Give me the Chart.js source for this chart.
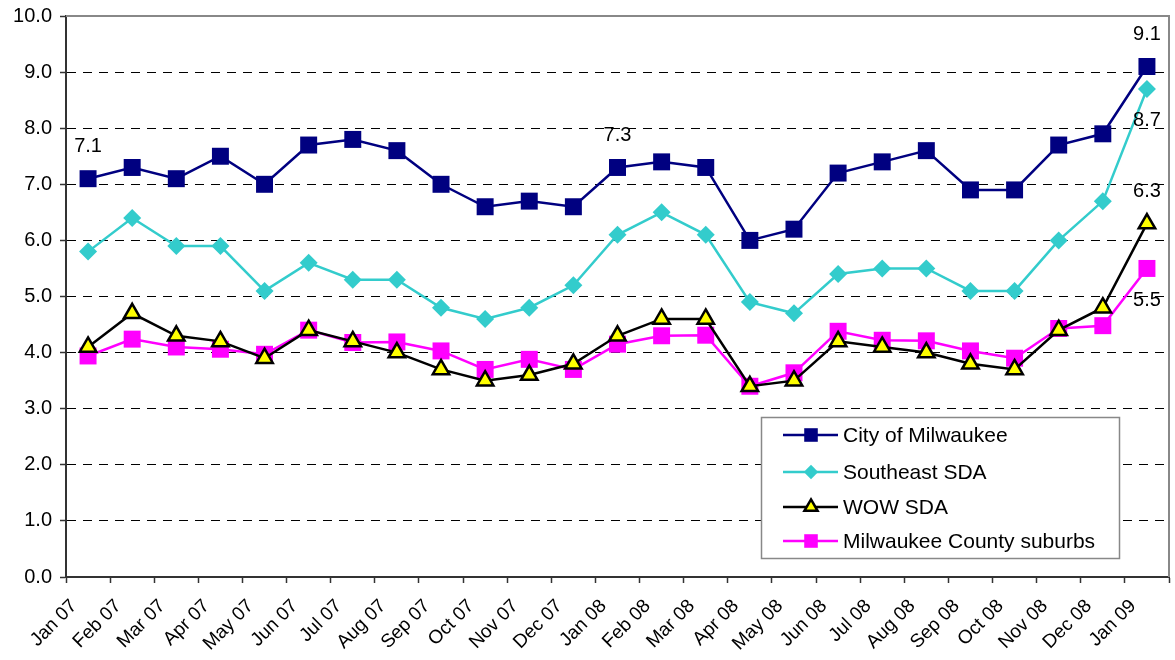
<!DOCTYPE html>
<html><head><meta charset="utf-8">
<script src="https://cdn.jsdelivr.net/npm/chart.js@4.4.0/dist/chart.umd.min.js"></script>
<style>html,body{margin:0;padding:0;background:#fff;overflow:hidden}#wrap{width:1175px;height:660px}</style>
</head><body><div id="wrap"><canvas id="c" width="1175" height="660"></canvas></div>
<script>
const months = ['Jan 07','Feb 07','Mar 07','Apr 07','May 07','Jun 07','Jul 07','Aug 07','Sep 07','Oct 07','Nov 07','Dec 07',
  'Jan 08','Feb 08','Mar 08','Apr 08','May 08','Jun 08','Jul 08','Aug 08','Sep 08','Oct 08','Nov 08','Dec 08','Jan 09'];
const seriesNames = ['City of Milwaukee','Southeast SDA','WOW SDA','Milwaukee County suburbs'];
const cityOfMilwaukee = [7.1,7.3,7.1,7.5,7.0,7.7,7.8,7.6,7.0,6.6,6.7,6.6,7.3,7.4,7.3,6.0,6.2,7.2,7.4,7.6,6.9,6.9,7.7,7.9,9.1];
const southeastSDA   = [5.8,6.4,5.9,5.9,5.1,5.6,5.3,5.3,4.8,4.6,4.8,5.2,6.1,6.5,6.1,4.9,4.7,5.4,5.5,5.5,5.1,5.1,6.0,6.7,8.7];
const wowSDA         = [4.1,4.7,4.3,4.2,3.9,4.4,4.2,4.0,3.7,3.5,3.6,3.8,4.3,4.6,4.6,3.4,3.5,4.2,4.1,4.0,3.8,3.7,4.4,4.8,6.3];
const countySuburbs  = [3.94,4.24,4.10,4.06,3.97,4.40,4.18,4.19,4.03,3.70,3.88,3.70,4.15,4.30,4.31,3.40,3.64,4.38,4.22,4.21,4.03,3.90,4.43,4.48,5.5];
const yMin = 0, yMax = 10, yStep = 1;
// which points carry a value label: [series index, point index, side]
const labelledPoints = [[0,0,'above'],[0,12,'above'],[0,24,'above'],[1,24,'below'],[2,24,'above'],[3,24,'below']];

const FONT = 'Liberation Sans, Arial, sans-serif';

const datasets = [
  {label: seriesNames[0], data: cityOfMilwaukee, borderColor:'#000080', backgroundColor:'#000080',
   pointStyle:'rect', pointRadius:12, pointBorderWidth:0, pointBackgroundColor:'#000080', borderWidth:2.5},
  {label: seriesNames[1], data: southeastSDA, borderColor:'#33CCCC', backgroundColor:'#33CCCC',
   pointStyle:'rectRot', pointRadius:9, pointBorderWidth:0, pointBackgroundColor:'#33CCCC', borderWidth:2.5},
  {label: seriesNames[2], data: wowSDA, borderColor:'#000000', backgroundColor:'#FFFF00',
   pointStyle:'triangle', pointRadius:9.5, pointBorderWidth:2.5, pointBorderColor:'#000000', pointBackgroundColor:'#FFFF00', borderWidth:2.5},
  {label: seriesNames[3], data: countySuburbs, borderColor:'#FF00FF', backgroundColor:'#FF00FF',
   pointStyle:'rect', pointRadius:12, pointBorderWidth:0, pointBackgroundColor:'#FF00FF', borderWidth:2.5}
];
datasets.forEach(d => { d.tension = 0; d.pointHoverRadius = d.pointRadius; d.clip = false; });

const framePlugin = {
  id:'frame',
  beforeDatasetsDraw(chart){
    const {ctx, chartArea:a} = chart;
    ctx.save();
    ctx.strokeStyle = '#888888'; ctx.lineWidth = 2;
    ctx.beginPath();
    ctx.moveTo(a.left, a.top); ctx.lineTo(a.right, a.top); ctx.lineTo(a.right, a.bottom);
    ctx.stroke();
    ctx.restore();
  },
  afterDraw(chart){
    const {ctx} = chart;
    // value labels
    ctx.save();
    ctx.font = '20px ' + FONT; ctx.fillStyle = '#000'; ctx.textAlign = 'center'; ctx.textBaseline = 'middle';
    labelledPoints.forEach(([s,i,side]) => {
      const el = chart.getDatasetMeta(s).data[i];
      const v = chart.data.datasets[s].data[i];
      ctx.fillText(v.toFixed(1), el.x, el.y + (side === 'above' ? -32 : 32));
    });
    ctx.restore();
    // legend
    const bx = 761, by = 417, bw = 358, bh = 141;
    ctx.save();
    ctx.fillStyle = '#fff'; ctx.fillRect(bx, by, bw, bh);
    ctx.strokeStyle = '#888'; ctx.lineWidth = 1.5; ctx.strokeRect(bx+0.5, by+0.5, bw, bh);
    const rows = [435, 472, 507, 541];
    chart.data.datasets.forEach((d, k) => {
      const y = rows[k];
      ctx.strokeStyle = d.borderColor; ctx.lineWidth = 2.5;
      ctx.beginPath(); ctx.moveTo(783, y); ctx.lineTo(838, y); ctx.stroke();
      ctx.fillStyle = d.pointBackgroundColor; ctx.strokeStyle = d.pointBorderColor || d.pointBackgroundColor;
      ctx.lineWidth = d.pointBorderWidth;
      Chart.helpers.drawPoint(ctx, {pointStyle: d.pointStyle, radius: d.pointRadius*0.8, rotation:0,
        borderWidth: d.pointBorderWidth}, 811, y);
      ctx.fillStyle = '#000'; ctx.font = '21px ' + FONT; ctx.textAlign = 'left'; ctx.textBaseline = 'middle';
      ctx.fillText(d.label, 843, y + 1);
    });
    ctx.restore();
  }
};

new Chart(document.getElementById('c'), {
  type:'line',
  data:{labels: months, datasets},
  options:{
    responsive:false, animation:false, devicePixelRatio:1,
    layout:{autoPadding:false, padding:{top:16, right:6, left:0, bottom:0}},
    plugins:{legend:{display:false}, tooltip:{enabled:false}},
    scales:{
      x:{
        offset:true,
        grid:{display:true, offset:true, drawOnChartArea:false, drawTicks:true, tickLength:6, tickColor:'#333', tickWidth:1.5, tickBorderDash:[]},
        border:{display:true, color:'#333', width:2},
        ticks:{autoSkip:false, maxRotation:45, minRotation:45, color:'#000', font:{family:FONT, size:19}, padding:12, labelOffset:-14},
        afterFit(s){ s.height = 83; s.paddingLeft = 0; s.paddingRight = 0; s.paddingTop = 0; s.paddingBottom = 0; }
      },
      y:{
        min:yMin, max:yMax,
        grid:{display:true, color:(c)=> (c.tick && (c.tick.value === yMin || c.tick.value === yMax)) ? 'rgba(0,0,0,0)' : '#000',
              lineWidth:1, drawTicks:true, tickLength:6, tickColor:'#333', tickWidth:1.5, tickBorderDash:[]},
        border:{display:true, color:'#333', width:2, dash:[9,7]},
        ticks:{stepSize:yStep, color:'#000', font:{family:FONT, size:20}, padding:8, callback:(v)=>Number(v).toFixed(1)},
        afterFit(s){ s.width = 66; s.paddingTop = 0; s.paddingBottom = 0; s.paddingLeft = 0; s.paddingRight = 0; }
      }
    }
  },
  plugins:[framePlugin]
});
</script></body></html>
